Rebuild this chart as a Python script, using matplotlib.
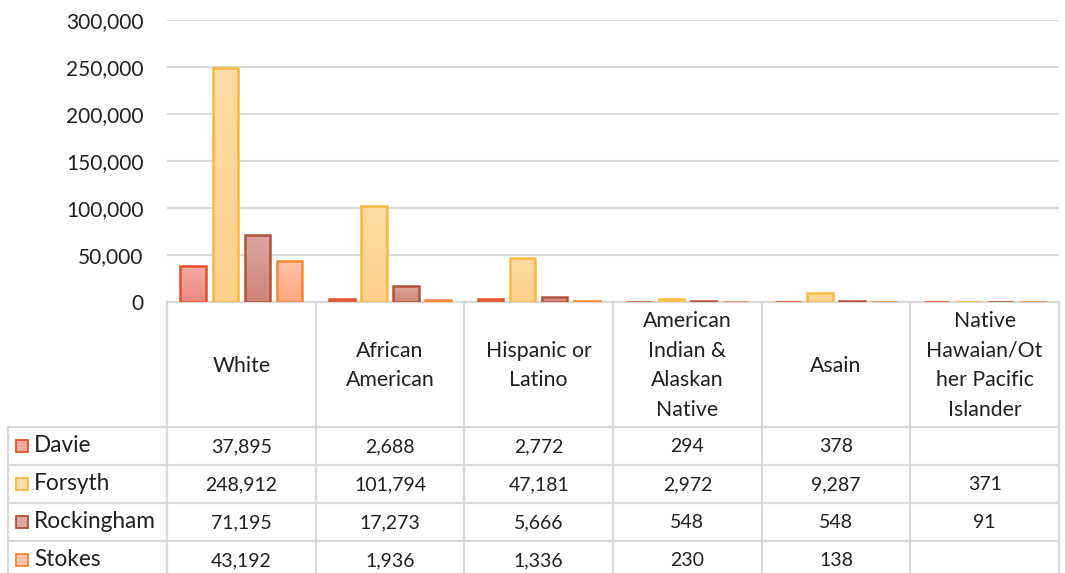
import numpy as np
import matplotlib
matplotlib.use("Agg")
import matplotlib.pyplot as plt
from matplotlib.colors import LinearSegmentedColormap

# ---------------- data ----------------
categories = ["White", "African\nAmerican", "Hispanic or\nLatino",
              "American\nIndian &\nAlaskan\nNative", "Asain",
              "Native\nHawaian/Ot\nher Pacific\nIslander"]
series_names = ["Davie", "Forsyth", "Rockingham", "Stokes"]
davie = [37895, 2688, 2772, 294, 378, np.nan]
forsyth = [248912, 101794, 47181, 2972, 9287, 371]
rockingham = [71195, 17273, 5666, 548, 548, 91]
stokes = [43192, 1936, 1336, 230, 138, np.nan]
yticks = [0, 50000, 100000, 150000, 200000, 250000, 300000]

series_values = [davie, forsyth, rockingham, stokes]
edge_colors = ["#e4502a", "#f9b840", "#b5503a", "#f88634"]
top_colors = ["#f3aba4", "#fedba4", "#dca8a1", "#ffc2a6"]
bot_colors = ["#ef897e", "#fdd08b", "#cc8377", "#ffa880"]

FONT = "Lato"
TXT = "#202020"
GRID = "#d9d9d9"
plt.rcParams["font.family"] = [FONT, "DejaVu Sans"]

W, H = 1065, 573
fig = plt.figure(figsize=(W / 100, H / 100), dpi=100)
left, right, top, bottom = 167, 1059, 20, 302
ax = fig.add_axes([left / W, 1 - bottom / H, (right - left) / W, (bottom - top) / H])
ax.set_facecolor("none")

n = len(categories)
x = np.arange(n)
spacing = 0.2155
bw = 0.172
for k, (name, vals) in enumerate(zip(series_names, series_values)):
    off = (k - 1.5) * spacing
    vals_arr = np.array(vals, dtype=float)
    bars = ax.bar(x + off, np.nan_to_num(vals_arr), width=bw, color=bot_colors[k],
                  edgecolor="none", zorder=3)
    cmap = LinearSegmentedColormap.from_list("g", [bot_colors[k], top_colors[k]])
    grad = np.linspace(0, 1, 64).reshape(-1, 1)
    for b, v in zip(bars, vals_arr):
        if np.isnan(v) or v <= 0:
            continue
        im = ax.imshow(grad, extent=[b.get_x(), b.get_x() + b.get_width(), 0, v],
                       origin="lower", aspect="auto", cmap=cmap, zorder=3.2,
                       interpolation="bilinear")
        im.set_clip_path(b)
    ax.bar(x + off, np.nan_to_num(vals_arr), width=bw, fill=False,
           edgecolor=edge_colors[k], linewidth=1.8, zorder=4)

ax.set_xlim(-0.5, n - 0.5)
ax.set_ylim(0, 300000)
ax.set_yticks(yticks)
ax.set_yticklabels([f"{v:,}" for v in yticks], fontsize=15, color=TXT)
ax.tick_params(axis="y", length=0, pad=17)
ax.set_xticks([])
for s in ax.spines.values():
    s.set_visible(False)
ax.yaxis.grid(True, color=GRID, linewidth=1.5, zorder=0)
ax.set_axisbelow(True)

# ---------------- data table ----------------
ov = fig.add_axes([0, 0, 1, 1], zorder=-1)
ov.set_xlim(0, W)
ov.set_ylim(H, 0)
ov.axis("off")

col_edges = [ax.transData.transform((i - 0.5, 0))[0] for i in range(n + 1)]
head_top, head_bot = 302, 427
row_h = 38
row_edges = [head_bot + r * row_h for r in range(len(series_names) + 1)]
label_left = 8
lw = 1.6

# horizontal lines
ov.plot([col_edges[0], col_edges[-1]], [head_top, head_top], color=GRID, lw=lw)
for yy in row_edges:
    ov.plot([label_left, col_edges[-1]], [yy, yy], color=GRID, lw=lw)
# vertical lines
for xx in col_edges:
    ov.plot([xx, xx], [head_top, row_edges[-1]], color=GRID, lw=lw)
ov.plot([label_left, label_left], [row_edges[0], row_edges[-1]], color=GRID, lw=lw)

# header texts
for i, cat in enumerate(categories):
    cx = (col_edges[i] + col_edges[i + 1]) / 2
    ov.text(cx, (head_top + head_bot) / 2 + 1, cat, ha="center", va="center",
            fontsize=15.3, color=TXT, linespacing=1.6)

# rows
for r, (name, vals) in enumerate(zip(series_names, series_values)):
    cy = (row_edges[r] + row_edges[r + 1]) / 2
    ov.add_patch(plt.Rectangle((16, cy - 6), 12, 12, facecolor=top_colors[r],
                               edgecolor=edge_colors[r], linewidth=1.3))
    ov.text(34, cy, name, ha="left", va="center", fontsize=16.3, color=TXT)
    for i, v in enumerate(vals):
        if np.isnan(v):
            continue
        cx = (col_edges[i] + col_edges[i + 1]) / 2
        ov.text(cx, cy + 1, f"{int(v):,}", ha="center", va="center",
                fontsize=14, color=TXT)

fig.savefig("out.png", dpi=100)
